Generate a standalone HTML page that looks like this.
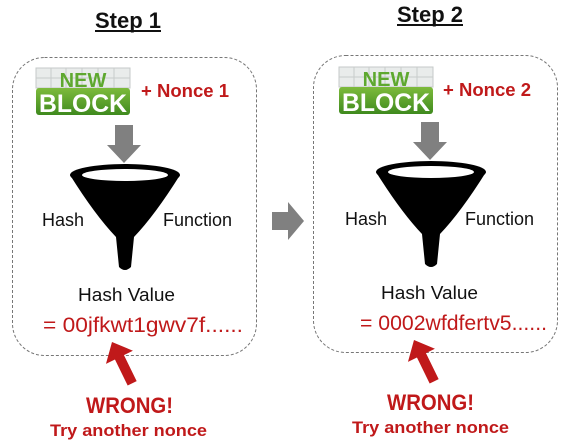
<!DOCTYPE html>
<html><head><meta charset="utf-8"><style>
html,body{margin:0;padding:0;background:#fff;}
svg{display:block;}
text{font-family:"Liberation Sans",Arial,sans-serif;}
</style></head><body>
<svg width="570" height="448" viewBox="0 0 570 448" xmlns="http://www.w3.org/2000/svg">
<defs>
<linearGradient id="g" x1="0" y1="0" x2="0" y2="1">
<stop offset="0" stop-color="#7dbb3c"/><stop offset="1" stop-color="#3f8a1e"/>
</linearGradient>
<g id="blk">
<rect x="0" y="0" width="94" height="20" fill="#e9eceb" stroke="#c5c9c8"/>
<path d="M15 0V20M30 0V20M46 0V20M62 0V20M78 0V20M0 10H94" stroke="#c8cccb" stroke-width="1"/>
<rect x="0" y="20" width="94" height="27" rx="3" fill="url(#g)"/>
<text x="47" y="19" text-anchor="middle" font-size="20" font-weight="bold" fill="#5ea82f">NEW</text>
<text x="47" y="44" text-anchor="middle" font-size="25" font-weight="bold" fill="#fff" textLength="88" lengthAdjust="spacingAndGlyphs">BLOCK</text>
</g>
<g id="fun">
<path d="M-55 0 L55 0 Q30 40 9 62 L6 92 Q0 98 -6 92 L-9 62 Q-30 40 -55 0 Z" fill="#000"/>
<ellipse cx="0" cy="0" rx="55" ry="11" fill="#000"/>
<ellipse cx="0" cy="0" rx="43" ry="6" fill="#fff"/>
</g>
<path id="dn" d="M8 0H26V20H34L17 38L0 20H8Z" fill="#808080"/>
<path id="ra" d="M0 0 L15 17 L5 17 L5 46 L-5 46 L-5 17 L-15 17 Z" fill="#c0191a"/>
</defs>

<!-- Step 1 -->
<text x="128" y="28" text-anchor="middle" font-size="22" font-weight="bold" fill="#111">Step 1</text>
<line x1="95" y1="31" x2="161" y2="31" stroke="#111" stroke-width="2"/>
<rect x="12.5" y="57.5" width="244" height="298" rx="32" fill="none" stroke="#777" stroke-dasharray="3,2"/>
<use href="#blk" x="36" y="68"/>
<text x="141" y="97" font-size="18" font-weight="bold" fill="#c0191a" textLength="88" lengthAdjust="spacingAndGlyphs">+ Nonce 1</text>
<use href="#dn" x="107" y="125"/>
<use href="#fun" x="125" y="175"/>
<text x="42" y="226" font-size="18" fill="#111">Hash</text>
<text x="163" y="226" font-size="18" fill="#111">Function</text>
<text x="78" y="301" font-size="18" fill="#111" textLength="97" lengthAdjust="spacingAndGlyphs">Hash Value</text>
<text x="43" y="332" font-size="21" fill="#c0191a" textLength="200" lengthAdjust="spacingAndGlyphs">= 00jfkwt1gwv7f......</text>
<use href="#ra" transform="translate(112,342) rotate(-26)"/>
<text x="86" y="413" font-size="22" font-weight="bold" fill="#c0191a" textLength="87" lengthAdjust="spacingAndGlyphs">WRONG!</text>
<text x="50" y="436" font-size="17" font-weight="bold" fill="#c0191a" textLength="157" lengthAdjust="spacingAndGlyphs">Try another nonce</text>

<!-- middle arrow -->
<path d="M272 212H288V202L304 221L288 240V230H272Z" fill="#808080"/>

<!-- Step 2 -->
<text x="430" y="22" text-anchor="middle" font-size="22" font-weight="bold" fill="#111">Step 2</text>
<line x1="397" y1="25" x2="463" y2="25" stroke="#111" stroke-width="2"/>
<rect x="313.5" y="55.5" width="244" height="297" rx="32" fill="none" stroke="#777" stroke-dasharray="3,2"/>
<use href="#blk" x="339" y="67"/>
<text x="443" y="96" font-size="18" font-weight="bold" fill="#c0191a" textLength="88" lengthAdjust="spacingAndGlyphs">+ Nonce 2</text>
<use href="#dn" x="413" y="122"/>
<use href="#fun" x="431" y="172"/>
<text x="345" y="225" font-size="18" fill="#111">Hash</text>
<text x="465" y="225" font-size="18" fill="#111">Function</text>
<text x="381" y="299" font-size="18" fill="#111" textLength="97" lengthAdjust="spacingAndGlyphs">Hash Value</text>
<text x="360" y="330" font-size="21" fill="#c0191a" textLength="187" lengthAdjust="spacingAndGlyphs">= 0002wfdfertv5......</text>
<use href="#ra" transform="translate(414,340) rotate(-26)"/>
<text x="387" y="410" font-size="22" font-weight="bold" fill="#c0191a" textLength="87" lengthAdjust="spacingAndGlyphs">WRONG!</text>
<text x="352" y="433" font-size="17" font-weight="bold" fill="#c0191a" textLength="157" lengthAdjust="spacingAndGlyphs">Try another nonce</text>
</svg>
</body></html>
